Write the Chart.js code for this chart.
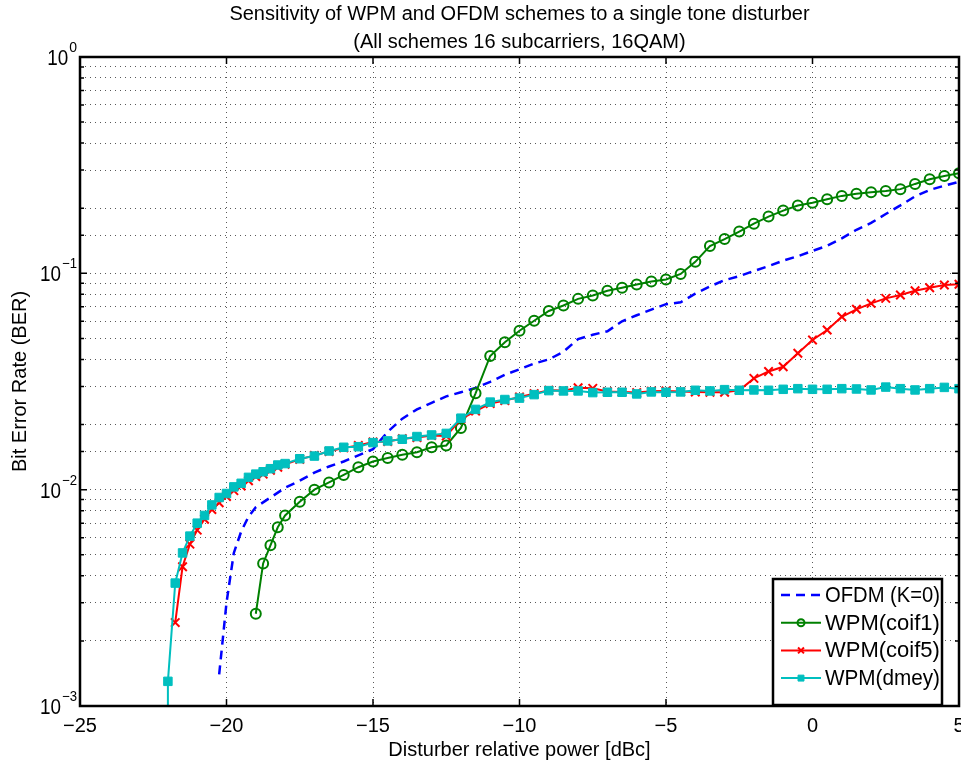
<!DOCTYPE html>
<html>
<head>
<meta charset="utf-8">
<script src="https://cdn.jsdelivr.net/npm/chart.js@4.4.1/dist/chart.umd.min.js"></script>
<style>
  html, body { margin: 0; padding: 0; background: #fff; }
</style>
</head>
<body>
<canvas id="berChart" width="961" height="772"></canvas>
<script>
// BER vs disturber power
const ofdmX = [-20.25, -20, -19.75, -19.5, -19.25, -19, -18.5, -18, -17.5, -17, -16.5, -16, -15.5, -15, -14.5, -14, -13.5, -13, -12.5, -12, -11.5, -11, -10.5, -10, -9.5, -9, -8.5, -8, -7.5, -7, -6.5, -6, -5.5, -5, -4.5, -4, -3.5, -3, -2.5, -2, -1.5, -1, -0.5, 0, 0.5, 1, 1.5, 2, 2.5, 3, 3.5, 4, 4.5, 5];
const ofdmBer = [0.0014, 0.003, 0.0051, 0.0064, 0.0075, 0.0083, 0.0092, 0.0102, 0.011, 0.012, 0.0128, 0.0135, 0.0144, 0.0154, 0.0185, 0.0213, 0.0235, 0.0252, 0.027, 0.0282, 0.0295, 0.0315, 0.034, 0.036, 0.0383, 0.04, 0.0434, 0.0497, 0.052, 0.054, 0.06, 0.064, 0.068, 0.072, 0.0735, 0.0805, 0.087, 0.093, 0.097, 0.1025, 0.108, 0.1145, 0.12, 0.127, 0.134, 0.145, 0.159, 0.171, 0.188, 0.206, 0.227, 0.243, 0.254, 0.265];

const coif1X = [-19, -18.75, -18.5, -18.25, -18, -17.5, -17, -16.5, -16, -15.5, -15, -14.5, -14, -13.5, -13, -12.5, -12, -11.5, -11, -10.5, -10, -9.5, -9, -8.5, -8, -7.5, -7, -6.5, -6, -5.5, -5, -4.5, -4, -3.5, -3, -2.5, -2, -1.5, -1, -0.5, 0, 0.5, 1, 1.5, 2, 2.5, 3, 3.5, 4, 4.5, 5];
const coif1Ber = [0.00267, 0.00456, 0.00553, 0.0067, 0.0076, 0.0088, 0.01, 0.0108, 0.0117, 0.0127, 0.0135, 0.014, 0.0145, 0.0149, 0.0157, 0.016, 0.0193, 0.0279, 0.0415, 0.048, 0.0543, 0.0604, 0.067, 0.071, 0.0762, 0.079, 0.083, 0.0857, 0.0888, 0.0917, 0.0936, 0.0993, 0.113, 0.1337, 0.144, 0.156, 0.1696, 0.183, 0.195, 0.206, 0.212, 0.22, 0.228, 0.233, 0.237, 0.24, 0.245, 0.259, 0.272, 0.282, 0.29];

const coif5X = [-21.75, -21.5, -21.25, -21, -20.75, -20.5, -20.25, -20, -19.75, -19.5, -19.25, -19, -18.75, -18.5, -18.25, -18, -17.5, -17, -16.5, -16, -15.5, -15, -14.5, -14, -13.5, -13, -12.5, -12, -11.5, -11, -10.5, -10, -9.5, -9, -8.5, -8, -7.5, -7, -6.5, -6, -5.5, -5, -4.5, -4, -3.5, -3, -2.5, -2, -1.5, -1, -0.5, 0, 0.5, 1, 1.5, 2, 2.5, 3, 3.5, 4, 4.5, 5];
const coif5Ber = [0.00243, 0.0044, 0.0056, 0.0065, 0.0073, 0.0081, 0.0087, 0.0093, 0.0099, 0.0104, 0.011, 0.0115, 0.0118, 0.0123, 0.0127, 0.0131, 0.0138, 0.0144, 0.015, 0.0156, 0.016, 0.0166, 0.0167, 0.0172, 0.0174, 0.0178, 0.0177, 0.0212, 0.0231, 0.025, 0.0258, 0.0268, 0.0278, 0.0288, 0.0287, 0.0296, 0.0294, 0.0284, 0.0283, 0.0281, 0.0285, 0.0286, 0.0284, 0.0283, 0.0282, 0.0282, 0.0288, 0.0327, 0.0352, 0.037, 0.0427, 0.0492, 0.0547, 0.063, 0.0682, 0.0726, 0.0766, 0.0794, 0.0831, 0.0858, 0.0883, 0.089];

const dmeyX = [-22.02, -22, -21.75, -21.5, -21.25, -21, -20.75, -20.5, -20.25, -20, -19.75, -19.5, -19.25, -19, -18.75, -18.5, -18.25, -18, -17.5, -17, -16.5, -16, -15.5, -15, -14.5, -14, -13.5, -13, -12.5, -12, -11.5, -11, -10.5, -10, -9.5, -9, -8.5, -8, -7.5, -7, -6.5, -6, -5.5, -5, -4.5, -4, -3.5, -3, -2.5, -2, -1.5, -1, -0.5, 0, 0.5, 1, 1.5, 2, 2.5, 3, 3.5, 4, 4.5, 5];
const dmeyBer = [0.0002, 0.0013, 0.0037, 0.0051, 0.0061, 0.007, 0.0076, 0.0085, 0.0092, 0.0096, 0.0103, 0.0107, 0.0114, 0.0118, 0.0121, 0.0125, 0.013, 0.0132, 0.0139, 0.0143, 0.0151, 0.0157, 0.0158, 0.0165, 0.0168, 0.0171, 0.0176, 0.0179, 0.0182, 0.0214, 0.0235, 0.0254, 0.0261, 0.0265, 0.0275, 0.0287, 0.0286, 0.0286, 0.0281, 0.0282, 0.0282, 0.0277, 0.0283, 0.0282, 0.0283, 0.0288, 0.0286, 0.029, 0.0288, 0.0289, 0.0288, 0.0291, 0.0293, 0.0291, 0.0291, 0.0293, 0.0292, 0.0289, 0.0298, 0.0293, 0.0289, 0.0293, 0.0297, 0.0293];

const xTicks = [-25, -20, -15, -10, -5, 0, 5];
const yDecades = [0.001, 0.01, 0.1, 1];
const yExponents = ['\u22123', '\u22122', '\u22121', '0'];
const seriesNames = ['OFDM (K=0)', 'WPM(coif1)', 'WPM(coif5)', 'WPM(dmey)'];

const FONT = "'Liberation Sans', Helvetica, Arial, sans-serif";
const toPoints = (xs, ys) => xs.map((x, i) => ({ x: x, y: ys[i] }));

// axes box, inward tick marks, 10^n labels and the boxed legend
const matlabAxes = {
  id: 'matlabAxes',
  afterLayout(chart) {
    // let the plot box run up to the right edge like the MATLAB figure
    const right = chart.width - 2;
    const area = chart.chartArea;
    area.right = right;
    area.width = right - area.left;
    const xs = chart.scales.x;
    xs.right = right;
    xs.width = right - xs.left;
    xs.configure();
    if (chart.titleBlock) {
      chart.titleBlock.right = right;
      chart.titleBlock.width = right - chart.titleBlock.left;
    }
  },
  afterDraw(chart) {
    const { ctx, chartArea: a, scales } = chart;
    const xs = scales.x, ys = scales.y;
    ctx.save();
    ctx.strokeStyle = '#000';
    ctx.lineWidth = 1.5;
    ctx.beginPath();
    xs.ticks.forEach(t => {
      const px = xs.getPixelForValue(t.value);
      ctx.moveTo(px, a.bottom); ctx.lineTo(px, a.bottom - 7);
      ctx.moveTo(px, a.top); ctx.lineTo(px, a.top + 7);
    });
    ys.ticks.forEach(t => {
      const py = ys.getPixelForValue(t.value);
      const len = yDecades.includes(t.value) ? 7 : 4;
      ctx.moveTo(a.left, py); ctx.lineTo(a.left + len, py);
      ctx.moveTo(a.right, py); ctx.lineTo(a.right - len, py);
    });
    ctx.stroke();
    ctx.lineWidth = 2.5;
    ctx.strokeRect(a.left, a.top, a.right - a.left, a.bottom - a.top);

    // y labels with raised exponent
    ctx.fillStyle = '#000';
    ctx.textBaseline = 'middle';
    ctx.textAlign = 'left';
    yDecades.forEach((v, i) => {
      const py = ys.getPixelForValue(v);
      ctx.font = '14px ' + FONT;
      const ew = Math.min(ctx.measureText(yExponents[i]).width, 15);
      ctx.fillText(yExponents[i], 77 - ew, py - 9, 15);
      ctx.font = '22px ' + FONT;
      ctx.textAlign = 'right';
      ctx.fillText('10', 77 - ew - 1, py + 2, 21);
      ctx.textAlign = 'left';
    });

    // legend
    const lx = 773, ly = 579, lw = 169, lh = 126;
    ctx.fillStyle = '#fff';
    ctx.fillRect(lx, ly, lw, lh);
    ctx.lineWidth = 2.5;
    ctx.strokeStyle = '#000';
    ctx.strokeRect(lx, ly, lw, lh);
    chart.data.datasets.forEach((ds, i) => {
      const ry = ly + 16 + i * 27.7;
      ctx.save();
      ctx.strokeStyle = ds.borderColor;
      ctx.lineWidth = ds.borderWidth;
      ctx.setLineDash(ds.borderDash || []);
      ctx.beginPath();
      ctx.moveTo(lx + 8, ry); ctx.lineTo(lx + 48, ry);
      ctx.stroke();
      ctx.restore();
      if (ds.pointRadius > 0) {
        ctx.strokeStyle = ds.pointBorderColor;
        ctx.fillStyle = ds.pointBackgroundColor;
        ctx.lineWidth = ds.pointBorderWidth;
        Chart.helpers.drawPoint(ctx, {
          pointStyle: ds.pointStyle, radius: ds.pointRadius * 0.7, rotation: 0,
          borderWidth: ds.pointBorderWidth
        }, lx + 28, ry);
      }
      ctx.fillStyle = '#000';
      ctx.font = '22px ' + FONT;
      ctx.textAlign = 'left';
      ctx.textBaseline = 'middle';
      ctx.fillText(seriesNames[i], lx + 52, ry + 1, 115);
    });
    ctx.restore();
  }
};

const ctx = document.getElementById('berChart').getContext('2d');
new Chart(ctx, {
  type: 'line',
  data: {
    datasets: [
      {
        label: seriesNames[0], data: toPoints(ofdmX, ofdmBer),
        borderColor: '#0000ff', borderWidth: 2.5, borderDash: [9, 6],
        pointRadius: 0, order: 4
      },
      {
        label: seriesNames[1], data: toPoints(coif1X, coif1Ber),
        borderColor: '#008000', borderWidth: 2,
        pointStyle: 'circle', pointRadius: 5, pointBorderWidth: 2,
        pointBorderColor: '#008000', pointBackgroundColor: 'rgba(0,0,0,0)', order: 3
      },
      {
        label: seriesNames[2], data: toPoints(coif5X, coif5Ber),
        borderColor: '#ff0000', borderWidth: 2,
        pointStyle: 'crossRot', pointRadius: 6, pointBorderWidth: 2,
        pointBorderColor: '#ff0000', pointBackgroundColor: '#ff0000', order: 2
      },
      {
        label: seriesNames[3], data: toPoints(dmeyX, dmeyBer),
        borderColor: '#00bfbf', borderWidth: 2,
        pointStyle: 'rect', pointRadius: 6, pointBorderWidth: 1,
        pointBorderColor: '#00bfbf', pointBackgroundColor: '#00bfbf', order: 1
      }
    ]
  },
  options: {
    responsive: false,
    animation: false,
    layout: { padding: { left: 0, right: 2, top: 0, bottom: 0 } },
    plugins: {
      legend: { display: false },
      tooltip: { enabled: false },
      title: {
        display: true,
        fullSize: false,
        text: ['Sensitivity of WPM and OFDM schemes to a single tone disturber', '(All schemes 16 subcarriers, 16QAM)'],
        color: '#000',
        font: { family: FONT, size: 20, weight: 'normal', lineHeight: 1.4 },
        padding: { top: 0, bottom: 1 }
      }
    },
    scales: {
      x: {
        type: 'linear', min: -25, max: 5,
        afterFit: s => { s.height = 66; s.paddingLeft = 0; s.paddingRight = 0; },
        afterBuildTicks: s => { s.ticks = xTicks.map(v => ({ value: v })); },
        ticks: {
          color: '#000', padding: 8,
          font: { family: FONT, size: 20 },
          callback: v => String(v).replace('-', '\u2212')
        },
        grid: { color: 'rgba(0,0,0,0.65)', lineWidth: 1, drawTicks: false },
        border: { display: false, dash: [1, 4] },
        title: {
          display: true, text: 'Disturber relative power [dBc]', color: '#000',
          font: { family: FONT, size: 20, lineHeight: 1.2 }, padding: { bottom: 10 }
        }
      },
      y: {
        type: 'logarithmic', min: 0.001, max: 1,
        afterFit: s => { s.width = 80; s.paddingTop = 0; s.paddingBottom = 0; },
        ticks: { display: false, autoSkip: false },
        grid: { color: 'rgba(0,0,0,0.65)', lineWidth: 1, drawTicks: false },
        border: { display: false, dash: [1, 4] },
        title: {
          display: true, text: 'Bit Error Rate (BER)', color: '#000',
          font: { family: FONT, size: 20, lineHeight: 1.2 }, padding: { top: 8 }
        }
      }
    }
  },
  plugins: [matlabAxes]
});
</script>
</body>
</html>
